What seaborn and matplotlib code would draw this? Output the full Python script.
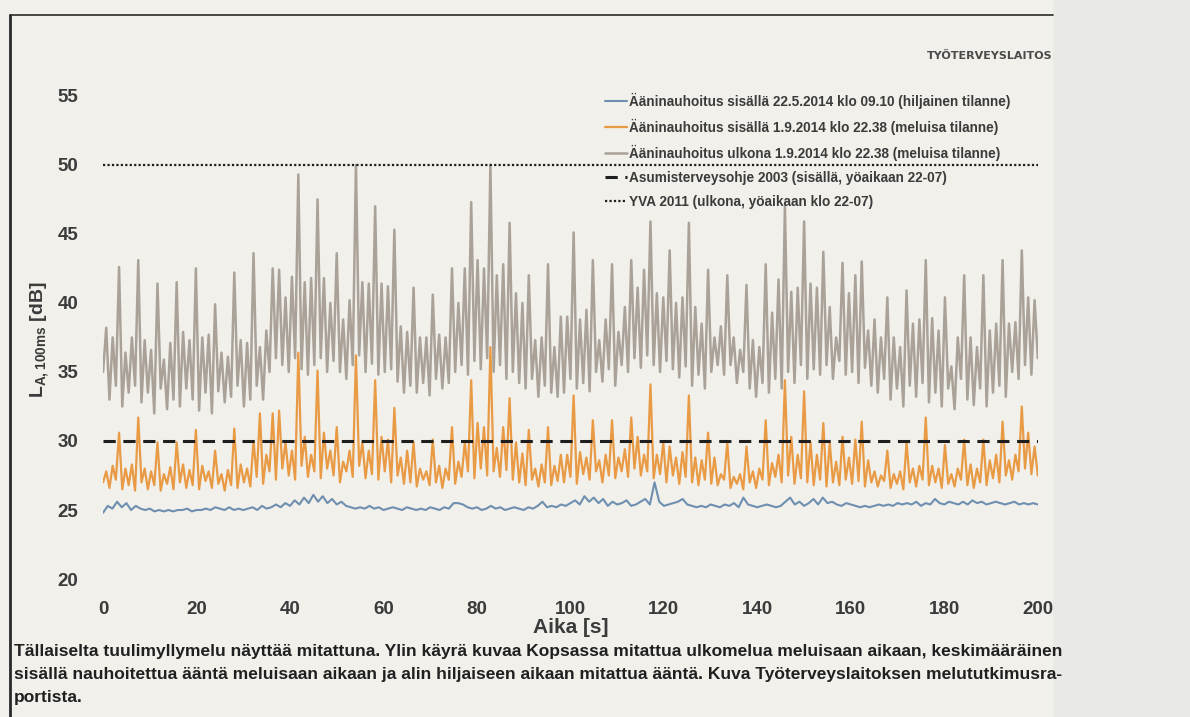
import numpy as np
import pandas as pd
import matplotlib
matplotlib.use("Agg")
import matplotlib.pyplot as plt
import seaborn as sns
from matplotlib import font_manager
from matplotlib.lines import Line2D
from matplotlib.patches import Rectangle

# ---------------- data ----------------
# outdoor recording: alternating trough / peak values (dB)
out_peaks_a = [38.2, 37.5, 42.6, 36.4, 37.5, 43.1, 37.3, 36.6, 41.4, 35.9, 37.1, 41.5,
               37.9, 37.3, 42.5, 37.5, 37.7, 39.9, 36.4, 36.1, 42.2, 37.3, 37.1, 43.6]
out_peaks_b = [36.8, 38.0, 42.5, 42.4, 40.4, 41.9, 49.3, 41.5, 41.8, 47.5, 41.8, 40.0,
               43.6, 38.8, 40.2, 50.0, 41.5, 41.4, 47.0, 41.4, 41.2, 45.3, 38.3, 37.9]
out_peaks_c = [41.1, 37.5, 37.5, 40.6, 37.7, 37.5, 42.5, 40.0, 42.5, 47.3, 43.1, 42.5,
               50.0, 42.0, 42.8, 45.8, 40.7, 40.0, 42.0, 37.3, 37.5, 42.8, 36.8, 39.0]
out_peaks_d = [39.0, 45.1, 38.8, 39.5, 43.1, 37.3, 38.8, 42.8, 37.9, 39.7, 43.1, 41.1,
               42.4, 45.9, 40.7, 40.4, 43.8, 40.0, 40.4, 45.8, 39.7, 38.5, 42.4, 37.5]
out_peaks_e = [38.3, 42.0, 37.5, 36.6, 41.3, 37.3, 36.8, 42.8, 39.3, 41.7, 47.0, 40.8,
               41.1, 45.9, 41.4, 41.1, 43.7, 39.7, 37.5, 42.9, 40.7, 42.0, 43.0, 38.0]
out_peaks_f = [38.8, 37.5, 40.4, 37.5, 36.8, 40.9, 38.5, 38.8, 43.1, 38.9, 38.0, 40.4,
               35.4, 37.5, 42.0, 37.5, 36.8, 42.0, 38.0, 38.5, 43.1, 38.5, 38.6, 43.8, 40.4, 40.2]

out_troughs_a = [35.0, 33.0, 34.0, 32.5, 33.5, 34.0, 32.8, 33.5, 32.0, 33.8, 32.3, 33.0,
                 32.5, 33.8, 33.0, 32.2, 33.5, 32.0, 33.6, 32.8, 33.2, 34.0, 32.5, 33.0]
out_troughs_b = [34.0, 33.0, 35.0, 36.0, 35.5, 35.0, 36.0, 35.2, 34.8, 35.5, 36.0, 35.0,
                 35.8, 35.0, 34.5, 35.5, 36.2, 35.0, 35.6, 34.8, 35.0, 35.2, 34.3, 33.5]
out_troughs_c = [34.0, 33.5, 34.2, 33.3, 34.5, 33.8, 34.2, 35.0, 35.5, 34.8, 35.8, 35.2,
                 36.0, 35.0, 35.5, 34.5, 35.0, 34.2, 33.8, 34.5, 33.2, 34.0, 33.5, 33.2]
out_troughs_d = [33.5, 34.5, 33.8, 34.2, 33.6, 35.0, 34.3, 35.2, 34.0, 35.5, 35.0, 36.0,
                 35.3, 36.2, 35.5, 35.0, 35.8, 35.2, 34.6, 35.4, 34.0, 34.8, 33.8, 35.0]
out_troughs_e = [35.5, 34.8, 35.5, 34.2, 35.0, 33.8, 33.2, 34.2, 33.5, 34.5, 33.8, 35.0,
                 34.2, 35.5, 34.5, 35.2, 34.8, 35.5, 34.5, 35.8, 34.8, 35.0, 34.2, 35.3]
out_troughs_f = [34.0, 33.5, 34.5, 33.0, 33.8, 32.5, 34.0, 33.2, 34.2, 32.8, 33.5, 32.5,
                 33.8, 32.3, 34.5, 33.0, 32.6, 33.8, 32.5, 33.5, 34.0, 33.2, 35.0, 34.5, 35.5, 34.8]
out_final = 36.0

# indoor, noisy situation
in_peaks_a = [27.8, 28.2, 30.6, 28.0, 28.3, 31.7, 28.0, 27.8, 29.9, 27.6, 28.1, 29.9,
              28.3, 27.9, 30.8, 28.2, 27.8, 29.3, 27.6, 27.9, 30.9, 28.3, 28.0, 30.0]
in_peaks_b = [32.0, 29.0, 32.0, 32.2, 29.9, 29.3, 36.4, 30.3, 29.0, 35.1, 30.6, 29.3,
              31.0, 28.5, 29.3, 36.2, 29.9, 29.3, 34.4, 30.3, 30.1, 32.4, 28.8, 29.3]
in_peaks_c = [29.9, 28.0, 27.8, 30.1, 28.2, 28.0, 31.0, 28.5, 29.9, 34.4, 31.3, 31.0,
              36.8, 29.5, 31.0, 33.1, 29.9, 29.1, 30.8, 28.0, 28.3, 31.0, 28.2, 29.0]
in_peaks_d = [29.0, 33.3, 29.2, 28.8, 31.5, 28.6, 29.0, 31.5, 28.8, 29.4, 31.7, 30.3,
              29.0, 34.1, 29.0, 29.9, 29.6, 28.8, 29.2, 33.3, 28.8, 28.6, 30.6, 28.8]
in_peaks_e = [27.6, 29.9, 27.4, 27.6, 29.6, 27.8, 28.0, 31.5, 28.4, 29.0, 34.4, 30.3,
              29.0, 33.6, 29.9, 29.0, 31.3, 29.9, 28.5, 30.3, 28.8, 30.1, 31.4, 28.6]
in_peaks_f = [27.8, 27.5, 29.3, 27.6, 27.8, 29.9, 28.0, 28.2, 31.7, 28.2, 28.0, 29.7,
              27.6, 28.0, 30.1, 28.3, 28.0, 30.1, 28.6, 29.0, 31.4, 28.6, 29.0, 32.5, 30.6, 29.6]

in_troughs_a = [27.0, 26.6, 27.2, 26.5, 26.8, 26.4, 27.0, 26.5, 26.8, 26.4, 26.9, 26.5,
                27.0, 26.6, 26.8, 26.5, 27.1, 26.6, 26.9, 26.4, 26.8, 26.6, 27.0, 26.7]
in_troughs_b = [27.4, 26.9, 27.8, 27.2, 28.0, 27.5, 27.2, 28.2, 27.4, 27.8, 27.3, 28.0,
                27.5, 27.0, 27.8, 27.4, 28.2, 27.3, 27.6, 27.2, 27.8, 27.0, 27.5, 26.9]
in_troughs_c = [27.0, 26.7, 27.2, 26.8, 27.0, 26.6, 27.2, 26.9, 27.4, 27.8, 27.3, 28.0,
                27.5, 27.8, 27.4, 27.9, 27.2, 27.0, 26.8, 27.2, 26.7, 27.0, 26.8, 27.1]
in_troughs_d = [27.0, 27.4, 26.9, 27.6, 27.2, 27.8, 27.0, 27.5, 27.3, 27.8, 27.4, 28.0,
                27.5, 27.8, 27.3, 27.6, 27.0, 27.5, 26.9, 27.4, 27.0, 26.8, 27.2, 26.9]
in_troughs_e = [26.8, 27.2, 26.6, 26.9, 26.5, 27.0, 26.6, 27.2, 26.8, 27.4, 27.0, 27.5,
                26.9, 27.3, 27.0, 26.8, 27.2, 26.7, 27.0, 26.8, 27.2, 26.9, 27.1, 26.7]
in_troughs_f = [27.0, 26.7, 27.1, 26.6, 26.9, 26.5, 27.0, 26.7, 27.2, 26.8, 27.0, 26.6,
                26.9, 26.7, 27.2, 26.8, 26.6, 27.0, 26.8, 27.3, 27.0, 27.5, 27.2, 27.8, 28.0, 27.6]
in_final = 27.5

# indoor, quiet situation (about one value per second)
quiet = [24.8, 25.3, 25.1, 25.6, 25.2, 25.5, 25.0, 25.3, 25.1, 25.0, 25.1,
         24.9, 25.0, 24.9, 25.0, 24.9, 25.0, 25.0, 25.1, 24.9, 25.0,
         25.0, 25.1, 25.0, 25.2, 25.1, 25.0, 25.2, 25.0, 25.1, 25.0,
         25.1, 25.2, 25.0, 25.3, 25.1, 25.2, 25.4, 25.2, 25.5, 25.3,
         25.7, 25.4, 25.9, 25.5, 26.1, 25.6, 26.0, 25.5, 25.8, 25.4,
         25.6, 25.3, 25.2, 25.1, 25.2, 25.1, 25.3, 25.1, 25.2, 25.0,
         25.1, 25.2, 25.1, 25.0, 25.2, 25.1, 25.0, 25.1, 25.0, 25.2,
         25.1, 25.0, 25.2, 25.1, 25.5, 25.5, 25.4, 25.2, 25.1, 25.2,
         25.0, 25.1, 25.3, 25.1, 25.2, 25.0, 25.1, 25.2, 25.1, 25.0,
         25.2, 25.1, 25.3, 25.6, 25.2, 25.3, 25.2, 25.4, 25.3, 25.5,
         25.7, 25.4, 26.0, 25.6, 25.9, 25.5, 25.8, 25.3, 25.6, 25.4,
         25.5, 25.7, 25.3, 25.4, 25.6, 25.8, 25.4, 27.0, 25.6, 25.3,
         25.4, 25.5, 25.6, 25.8, 25.4, 25.3, 25.2, 25.3, 25.2, 25.4,
         25.3, 25.2, 25.4, 25.3, 25.5, 25.2, 25.9, 25.4, 25.3, 25.2,
         25.3, 25.4, 25.3, 25.2, 25.3, 25.6, 25.9, 25.4, 25.6, 25.3,
         25.5, 25.8, 25.4, 25.9, 25.5, 25.6, 25.4, 25.3, 25.5, 25.4,
         25.3, 25.2, 25.3, 25.2, 25.3, 25.4, 25.3, 25.4, 25.3, 25.5,
         25.4, 25.5, 25.4, 25.6, 25.3, 25.5, 25.4, 25.8, 25.5, 25.4,
         25.6, 25.5, 25.4, 25.6, 25.4, 25.7, 25.5, 25.6, 25.4, 25.5,
         25.6, 25.5, 25.4, 25.5, 25.6, 25.4, 25.5, 25.4, 25.5, 25.4]

limit_indoor = 30   # Asumisterveysohje 2003
limit_outdoor = 50  # YVA 2011

x_ticks = [0, 20, 40, 60, 80, 100, 120, 140, 160, 180, 200]
y_ticks = [20, 25, 30, 35, 40, 45, 50, 55]

labels = ["Ääninauhoitus sisällä 22.5.2014 klo 09.10 (hiljainen tilanne)",
          "Ääninauhoitus sisällä 1.9.2014 klo 22.38 (meluisa tilanne)",
          "Ääninauhoitus ulkona 1.9.2014 klo 22.38 (meluisa tilanne)",
          "Asumisterveysohje 2003 (sisällä, yöaikaan 22-07)",
          "YVA 2011 (ulkona, yöaikaan klo 22-07)"]

caption = ("Tällaiselta tuulimyllymelu näyttää mitattuna. Ylin käyrä kuvaa Kopsassa mitattua ulkomelua meluisaan aikaan, keskimääräinen\n"
           "sisällä nauhoitettua ääntä meluisaan aikaan ja alin hiljaiseen aikaan mitattua ääntä. Kuva Työterveyslaitoksen melututkimusra-\n"
           "portista.")


def interleave(troughs, peaks, final):
    vals = []
    for t, p in zip(troughs, peaks):
        vals += [t, p]
    vals.append(final)
    return np.array(vals)


out_vals = interleave(out_troughs_a + out_troughs_b + out_troughs_c + out_troughs_d + out_troughs_e + out_troughs_f,
                      out_peaks_a + out_peaks_b + out_peaks_c + out_peaks_d + out_peaks_e + out_peaks_f, out_final)
in_vals = interleave(in_troughs_a + in_troughs_b + in_troughs_c + in_troughs_d + in_troughs_e + in_troughs_f,
                     in_peaks_a + in_peaks_b + in_peaks_c + in_peaks_d + in_peaks_e + in_peaks_f, in_final)

df_out = pd.DataFrame({"t": np.linspace(0, 200, len(out_vals)), "db": out_vals})
df_in = pd.DataFrame({"t": np.linspace(0, 200, len(in_vals)), "db": in_vals})
df_q = pd.DataFrame({"t": np.linspace(0, 200, len(quiet)), "db": quiet})

# ---------------- style ----------------
sns.set_theme(style="white")
avail = {f.name for f in font_manager.fontManager.ttflist}
narrow = "Liberation Sans Narrow" if "Liberation Sans Narrow" in avail else "Liberation Sans"
plt.rcParams["font.family"] = [narrow, "DejaVu Sans"]

paper = "#f1f0eb"
txt = "#3b3b3b"
c_quiet = "#6f8fb0"
c_noisy = "#e99a45"
c_out = "#aaa298"

fig = plt.figure(figsize=(11.9, 7.17), dpi=100, facecolor=paper)
ax = fig.add_axes([0.0866, 0.177, 0.7855, 0.699])
ax.set_facecolor(paper)

sns.lineplot(data=df_out, x="t", y="db", ax=ax, color=c_out, lw=1.8, label=labels[2], zorder=2)
sns.lineplot(data=df_in, x="t", y="db", ax=ax, color=c_noisy, lw=1.6, label=labels[1], zorder=3)
sns.lineplot(data=df_q, x="t", y="db", ax=ax, color=c_quiet, lw=1.5, label=labels[0], zorder=4)
ax.axhline(limit_indoor, xmin=0, xmax=1, color="#1e1e1e", lw=2.2, ls=(0, (4, 2.5)), label=labels[3], zorder=5)
ax.axhline(limit_outdoor, xmin=0, xmax=1, color="#1e1e1e", lw=1.6, ls=(0, (1, 1)), label=labels[4], zorder=5)

ax.set_xlim(0, 200)
ax.set_ylim(19.2, 55.5)
ax.set_xticks(x_ticks)
ax.set_yticks(y_ticks)
ax.tick_params(axis="both", length=0, labelsize=13.5, colors=txt)
for lab in ax.get_xticklabels() + ax.get_yticklabels():
    lab.set_fontweight("bold")
ax.tick_params(axis="y", pad=18)
ax.tick_params(axis="x", pad=8)
for s in ax.spines.values():
    s.set_visible(False)

ax.set_xlabel("Aika [s]", fontsize=15, fontweight="bold", color=txt, labelpad=0)
ax.set_ylabel(r"L$_{\mathregular{A,100ms}}$ [dB]", fontsize=14, fontweight="bold", color=txt, labelpad=4)

handles, labs = ax.get_legend_handles_labels()
order = [labs.index(l) for l in labels]
leg = ax.legend([handles[i] for i in order], [labs[i] for i in order],
                loc="upper left", bbox_to_anchor=(0.528, 1.008), frameon=False,
                fontsize=9.8, handlelength=1.6, handletextpad=0.2, labelspacing=0.72,
                borderaxespad=0.2)
for t in leg.get_texts():
    t.set_color(txt)
    t.set_fontweight("bold")

fig.text(0.832, 0.922, "TYÖTERVEYSLAITOS", fontsize=8, fontweight="bold", color="#4a4a4a",
         ha="center", va="center", family=["DejaVu Sans"])
fig.text(0.012, 0.102, caption, fontsize=12.5, fontweight="bold", color="#202020",
         ha="left", va="top", linespacing=1.68)

# page frame of the clipping
fig.add_artist(Rectangle((0.885, 0.0), 0.115, 1.0, transform=fig.transFigure,
                         facecolor="#e9e9e6", edgecolor="none", zorder=-1))
fig.add_artist(Line2D([0.008, 0.008], [0.0, 0.979], transform=fig.transFigure, color="#2a2a2a", lw=2))
fig.add_artist(Line2D([0.008, 0.885], [0.979, 0.979], transform=fig.transFigure, color="#2a2a2a", lw=1.2))

fig.savefig("out.png", dpi=100, facecolor=paper)
